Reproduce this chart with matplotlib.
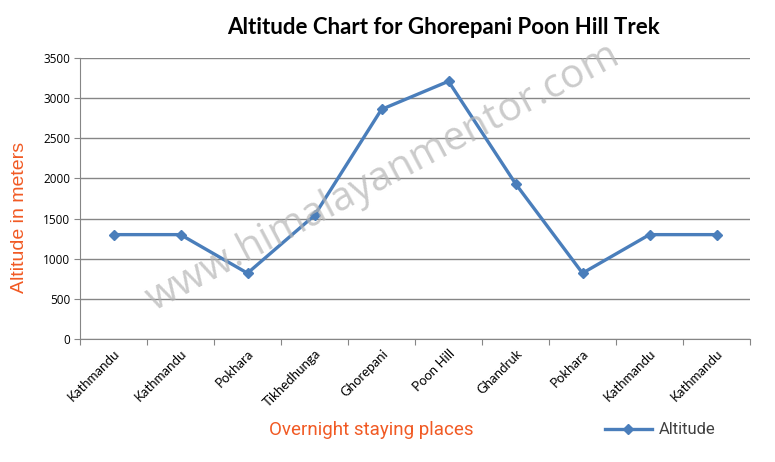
import numpy as np
import matplotlib.pyplot as plt
from matplotlib.lines import Line2D

places = ['Kathmandu', 'Kathmandu', 'Pokhara', 'Tikhedhunga', 'Ghorepani',
          'Poon Hill', 'Ghandruk', 'Pokhara', 'Kathmandu', 'Kathmandu']
altitude = [1300, 1300, 820, 1540, 2860, 3210, 1935, 820, 1300, 1300]
yticks = [0, 500, 1000, 1500, 2000, 2500, 3000, 3500]

blue = '#4A7EBB'
orange = '#F15A24'
grid_c = '#868686'

plt.rcParams['font.family'] = ['Lato', 'DejaVu Sans']

fig = plt.figure(figsize=(7.75, 4.62), dpi=100)
ax = fig.add_axes([80 / 775, 1 - 339 / 462, 670 / 775, 281 / 462])

x = np.arange(len(places))
ax.plot(x, altitude, color=blue, lw=2.4, marker='D', ms=5.5, zorder=3)

ax.set_xlim(-0.5, len(places) - 0.5)
ax.set_ylim(0, 3500)
ax.set_yticks(yticks)
ax.set_yticklabels([str(v) for v in yticks], fontsize=8.5, family=['Open Sans', 'DejaVu Sans'])
ax.yaxis.grid(True, color=grid_c, lw=1)
ax.set_axisbelow(True)
ax.tick_params(axis='y', length=4, color=grid_c, pad=3)

ax.set_xticks(np.arange(-0.5, len(places)), labels=[])
ax.set_xticks(x, minor=True)
ax.set_xticklabels(places, minor=True, rotation=45, ha='right',
                   rotation_mode='anchor', fontsize=9.5)
ax.tick_params(axis='x', which='major', length=4, color=grid_c)
ax.tick_params(axis='x', which='minor', length=0, pad=6)

for s in ['top', 'right']:
    ax.spines[s].set_visible(False)
for s in ['left', 'bottom']:
    ax.spines[s].set_color(grid_c)

fig.text(443 / 775, 1 - 28 / 462, 'Altitude Chart for Ghorepani Poon Hill Trek',
         ha='center', va='center', fontsize=16, fontweight='bold')
fig.text(20 / 775, 1 - 217 / 462, 'Altitude in meters', rotation=90,
         ha='center', va='center', fontsize=14, color=orange,
         family=['Liberation Sans', 'DejaVu Sans'])
fig.text(371 / 775, 1 - 430 / 462, 'Overnight staying places',
         ha='center', va='center', fontsize=13.5, color=orange,
         family=['Roboto', 'DejaVu Sans'])

# watermark
fig.text(383 / 775, 1 - 178 / 462, 'www.himalayanmentor.com', rotation=28,
         ha='center', va='center', fontsize=29, color='#b5b5b5', alpha=0.7,
         family=['Open Sans', 'DejaVu Sans'], zorder=0)

handle = Line2D([], [], color=blue, lw=2.4, marker='D', ms=5.5, markevery=[1])
fig.legend([handle], ['Altitude'], loc='center left',
           bbox_to_anchor=(590 / 775, 1 - 430 / 462), frameon=False,
           handlelength=2.8, handletextpad=0.4,
           prop={'family': ['Roboto', 'DejaVu Sans'], 'size': 12},
           labelcolor='#404040')

fig.savefig('out.png', dpi=100)
